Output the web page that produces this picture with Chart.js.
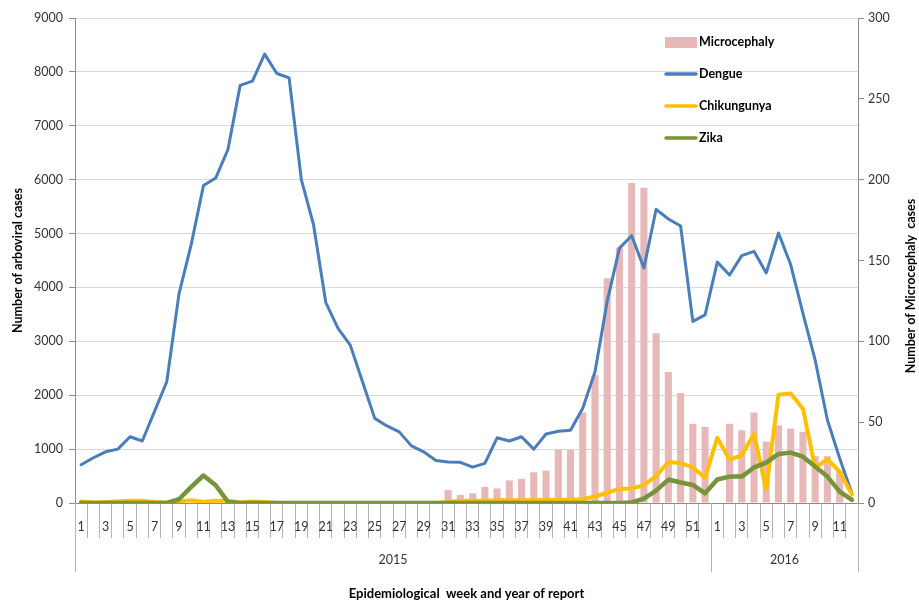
<!DOCTYPE html>
<html>
<head>
<meta charset="utf-8">
<script src="https://cdn.jsdelivr.net/npm/chart.js@4.4.1/dist/chart.umd.min.js"></script>
<style>
  html, body { margin: 0; padding: 0; background: #fff; }
  #wrap { width: 919px; height: 603px; }
</style>
</head>
<body>
<div id="wrap"><canvas id="chart" width="919" height="603"></canvas></div>
<script>
// epidemiological weeks, 2015 then 2016
const weeks2015 = ['1','2','3','4','5','6','7','8','9','10','11','12','13','14','15','16','17','18','19','20',
  '21','22','23','24','25','26','27','28','29','30','31','32','33','34','35','36','37','38','39','40',
  '41','42','43','44','45','46','47','48','49','50','51','52'];
const weeks2016 = ['1','2','3','4','5','6','7','8','9','10','11','12'];
const years = ['2015', '2016'];

// arboviral cases (left axis)
const dengue = [710, 840, 950, 1000, 1230, 1150, 1700, 2250, 3880, 4800,
  5890, 6030, 6560, 7750, 7830, 8330, 7970, 7890, 6000, 5160,
  3720, 3240, 2930, 2250, 1570, 1430, 1320, 1060, 950, 790,
  760, 755, 665, 735, 1210, 1150, 1230, 1000, 1280, 1330,
  1350, 1760, 2430, 3740, 4730, 4960, 4360, 5450, 5270, 5140,
  3370, 3490, 4470, 4230, 4590, 4670, 4270, 5010, 4420, 3520,
  2650, 1540, 830, 180];
const chikungunya = [30, 10, 20, 30, 40, 40, 20, 10, 30, 50,
  20, 40, 40, 10, 30, 20, 0, 0, 0, 0,
  0, 0, 0, 0, 0, 0, 0, 0, 0, 0,
  20, 40, 40, 40, 50, 50, 50, 50, 60, 60,
  60, 70, 120, 190, 260, 270, 330, 500, 760, 740,
  660, 470, 1210, 800, 890, 1280, 250, 2010, 2030, 1750,
  650, 815, 580, 160];
const zika = [0, 0, 0, 0, 0, 0, 0, 0, 70, 300,
  510, 330, 20, 0, 0, 0, 0, 0, 0, 0,
  0, 0, 0, 0, 0, 0, 0, 0, 0, 0,
  0, 0, 0, 0, 0, 0, 0, 0, 0, 0,
  0, 0, 0, 0, 0, 10, 80, 230, 435, 380,
  335, 180, 435, 490, 490, 660, 750, 910, 935, 860,
  675, 490, 210, 56];

// microcephaly cases (right axis)
const microcephaly = [0, 0, 0, 0, 0, 0, 0, 0, 0, 0,
  0, 0, 0, 0, 0, 0, 0, 0, 0, 0,
  0, 0, 0, 0, 0, 0, 0, 0, 0, 0,
  8, 5, 6, 10, 9, 14, 15, 19, 20, 33,
  33, 56, 79, 139, 158, 198, 195, 105, 81, 68,
  49, 47, null, 49, 45, 56, 38, 48, 46, 44,
  29, 29, 20, 0];

const labels = weeks2015.concat(weeks2016);
const axisGrey = '#8c8c8c';
const textColor = '#333333';
Chart.defaults.font.family = 'Lato, "Open Sans", sans-serif';

// year row under the week labels, with the group separators
const yearRow = {
  id: 'yearRow',
  afterDraw(chart) {
    const { ctx, scales: { x } } = chart;
    const n = weeks2015.length;
    const sep = (x.getPixelForValue(n - 1) + x.getPixelForValue(n)) / 2;
    const edges = [x.left, sep, x.right];
    ctx.save();
    ctx.strokeStyle = '#b3b3b3';
    ctx.lineWidth = 1;
    edges.forEach(px => {
      const p = Math.round(px) + 0.5;
      ctx.beginPath();
      ctx.moveTo(p, x.top);
      ctx.lineTo(p, x.top + 69);
      ctx.stroke();
    });
    ctx.fillStyle = textColor;
    ctx.font = '12.5px Lato';
    ctx.textAlign = 'center';
    ctx.textBaseline = 'middle';
    ctx.fillText(years[0], (edges[0] + edges[1]) / 2, x.top + 57);
    ctx.fillText(years[1], (edges[1] + edges[2]) / 2, x.top + 57);
    ctx.restore();
  }
};

// right axis title reads bottom-to-top, like the left one
const rightTitle = {
  id: 'rightTitle',
  afterDraw(chart) {
    const { ctx } = chart;
    ctx.save();
    ctx.translate(911, 286);
    ctx.rotate(-Math.PI / 2);
    ctx.fillStyle = '#000';
    ctx.font = 'bold 12.5px Lato';
    ctx.textAlign = 'center';
    ctx.textBaseline = 'middle';
    ctx.fillText('Number of Microcephaly  cases', 0, 0);
    ctx.restore();
  }
};

// legend stacked inside the plot, top right
const insideLegend = {
  id: 'insideLegend',
  afterDraw(chart) {
    const { ctx } = chart;
    const x0 = 665, y0 = 42, step = 32;
    ctx.save();
    ctx.font = 'bold 12.5px Lato';
    ctx.textBaseline = 'middle';
    chart.data.datasets.forEach((ds, i) => {
      const y = y0 + i * step;
      if (ds.type === 'bar') {
        ctx.fillStyle = ds.backgroundColor;
        ctx.fillRect(x0, y - 5, 32, 11);
      } else {
        ctx.strokeStyle = ds.borderColor;
        ctx.lineWidth = 3.5;
        ctx.lineCap = 'round';
        ctx.beginPath();
        ctx.moveTo(x0 + 1, y);
        ctx.lineTo(x0 + 31, y);
        ctx.stroke();
      }
      ctx.fillStyle = '#000';
      ctx.fillText(ds.label, x0 + 34, y);
    });
    ctx.restore();
  }
};

const lineStyle = {
  type: 'line',
  yAxisID: 'y',
  pointRadius: 0,
  pointHoverRadius: 0,
  tension: 0,
  fill: false,
  borderJoinStyle: 'round',
  borderCapStyle: 'round'
};

new Chart(document.getElementById('chart'), {
  type: 'bar',
  data: {
    labels,
    datasets: [
      {
        type: 'bar',
        label: 'Microcephaly',
        data: microcephaly,
        yAxisID: 'y2',
        backgroundColor: '#e6b9b8',
        barPercentage: 0.58,
        categoryPercentage: 1,
        order: 4
      },
      { ...lineStyle, label: 'Dengue', data: dengue, borderColor: '#4a7ebb', borderWidth: 3, order: 3 },
      { ...lineStyle, label: 'Chikungunya', data: chikungunya, borderColor: '#ffc000', borderWidth: 4, order: 2 },
      { ...lineStyle, label: 'Zika', data: zika, borderColor: '#77933c', borderWidth: 4.5, order: 1 }
    ]
  },
  options: {
    responsive: false,
    animation: false,
    devicePixelRatio: 1,
    layout: { padding: { top: 18, left: 0, right: 0, bottom: 0 } },
    plugins: {
      legend: { display: false },
      tooltip: { enabled: false }
    },
    scales: {
      x: {
        offset: true,
        afterFit: (scale) => { scale.height = 100; },
        grid: {
          offset: true,
          drawOnChartArea: false,
          tickLength: 35,
          color: '#b3b3b3'
        },
        border: { display: true, color: axisGrey },
        ticks: {
          autoSkip: false,
          maxRotation: 0,
          padding: -19,
          color: textColor,
          font: { size: 12.5 },
          callback: function (v, i) { return i % 2 === 0 ? this.getLabelForValue(v) : ''; }
        },
        title: {
          display: true,
          text: 'Epidemiological  week and year of report',
          color: '#000',
          font: { size: 13, weight: 'bold' },
          padding: { top: 0, bottom: 1 }
        }
      },
      y: {
        position: 'left',
        min: 0,
        max: 9000,
        afterFit: (scale) => { scale.width = 75; },
        grid: { color: '#d9d9d9', tickColor: axisGrey, tickLength: 6 },
        border: { display: true, color: axisGrey },
        ticks: {
          stepSize: 1000,
          padding: 6,
          color: textColor,
          font: { size: 12.5 },
          callback: (v) => String(v)
        },
        title: {
          display: true,
          text: 'Number of arboviral cases',
          color: '#000',
          font: { size: 12.5, weight: 'bold' },
          padding: { top: 10.5, bottom: 0 }
        }
      },
      y2: {
        position: 'right',
        min: 0,
        max: 300,
        afterFit: (scale) => { scale.width = 61; },
        grid: { drawOnChartArea: false, tickColor: axisGrey, tickLength: 6 },
        border: { display: true, color: axisGrey },
        ticks: { stepSize: 50, padding: 4, color: textColor, font: { size: 12.5 } }
      }
    }
  },
  plugins: [yearRow, rightTitle, insideLegend]
});
</script>
</body>
</html>
